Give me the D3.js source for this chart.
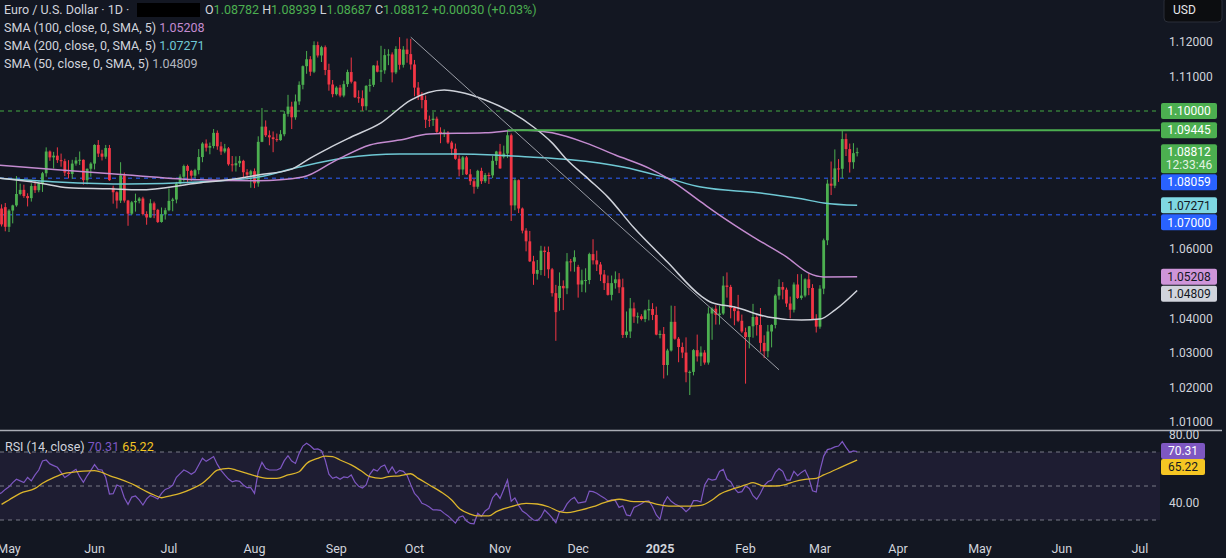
<!DOCTYPE html>
<meta charset="utf-8">
<script src="https://d3js.org/d3.v7.min.js"></script>
<style>
  body { margin: 0; background: #131722; }
  svg text { font-family: Roboto, "Noto Sans", sans-serif; }
</style>
<div id="chart"></div>
<script>
// ---- data ----
// daily candles: date, open, high, low, close
const candles = [
["2024-04-26",1.0733,1.0740,1.0690,1.0693],["2024-04-29",1.0718,1.0730,1.0666,1.0672],["2024-04-30",1.0722,1.0734,1.0652,1.0665],
["2024-05-01",1.0665,1.0716,1.0650,1.0712],["2024-05-02",1.0712,1.0729,1.0675,1.0727],["2024-05-03",1.0727,1.0812,1.0723,1.0760],
["2024-05-06",1.0760,1.0790,1.0756,1.0772],["2024-05-07",1.0772,1.0787,1.0749,1.0754],["2024-05-08",1.0754,1.0762,1.0724,1.0748],
["2024-05-09",1.0748,1.0791,1.0738,1.0783],["2024-05-10",1.0783,1.0800,1.0763,1.0771],["2024-05-13",1.0771,1.0796,1.0765,1.0790],
["2024-05-14",1.0790,1.0824,1.0766,1.0820],["2024-05-15",1.0820,1.0895,1.0810,1.0883],["2024-05-16",1.0883,1.0886,1.0856,1.0866],
["2024-05-17",1.0866,1.0882,1.0834,1.0871],["2024-05-20",1.0871,1.0895,1.0850,1.0858],["2024-05-21",1.0858,1.0877,1.0839,1.0855],
["2024-05-22",1.0855,1.0862,1.0812,1.0822],["2024-05-23",1.0822,1.0858,1.0805,1.0818],["2024-05-24",1.0818,1.0859,1.0804,1.0848],
["2024-05-27",1.0848,1.0867,1.0842,1.0857],["2024-05-28",1.0857,1.0883,1.0844,1.0859],["2024-05-29",1.0859,1.0860,1.0787,1.0800],
["2024-05-30",1.0800,1.0834,1.0788,1.0833],["2024-05-31",1.0833,1.0852,1.0810,1.0848],
["2024-06-03",1.0848,1.0904,1.0831,1.0902],["2024-06-04",1.0902,1.0916,1.0867,1.0877],["2024-06-05",1.0877,1.0888,1.0857,1.0868],
["2024-06-06",1.0868,1.0902,1.0862,1.0893],["2024-06-07",1.0893,1.0902,1.0798,1.0800],["2024-06-10",1.0778,1.0784,1.0732,1.0765],
["2024-06-11",1.0765,1.0768,1.0718,1.0741],["2024-06-12",1.0741,1.0852,1.0734,1.0814],["2024-06-13",1.0814,1.0822,1.0735,1.0741],
["2024-06-14",1.0741,1.0743,1.0668,1.0703],["2024-06-17",1.0703,1.0740,1.0699,1.0736],["2024-06-18",1.0736,1.0761,1.0709,1.0740],
["2024-06-19",1.0740,1.0751,1.0733,1.0747],["2024-06-20",1.0747,1.0752,1.0698,1.0702],["2024-06-21",1.0702,1.0710,1.0671,1.0692],
["2024-06-24",1.0692,1.0745,1.0691,1.0733],["2024-06-25",1.0733,1.0738,1.0690,1.0714],["2024-06-26",1.0714,1.0717,1.0676,1.0679],
["2024-06-27",1.0679,1.0721,1.0677,1.0701],["2024-06-28",1.0701,1.0720,1.0686,1.0713],
["2024-07-01",1.0713,1.0776,1.0710,1.0740],["2024-07-02",1.0740,1.0749,1.0710,1.0744],["2024-07-03",1.0744,1.0795,1.0733,1.0790],
["2024-07-04",1.0790,1.0817,1.0787,1.0810],["2024-07-05",1.0810,1.0845,1.0796,1.0841],["2024-07-08",1.0841,1.0845,1.0791,1.0827],
["2024-07-09",1.0827,1.0830,1.0798,1.0813],["2024-07-10",1.0813,1.0833,1.0806,1.0829],["2024-07-11",1.0829,1.0890,1.0817,1.0867],
["2024-07-12",1.0867,1.0910,1.0852,1.0906],["2024-07-15",1.0906,1.0918,1.0883,1.0894],["2024-07-16",1.0894,1.0909,1.0875,1.0899],
["2024-07-17",1.0899,1.0948,1.0892,1.0937],["2024-07-18",1.0937,1.0944,1.0888,1.0898],["2024-07-19",1.0898,1.0911,1.0873,1.0883],
["2024-07-22",1.0883,1.0905,1.0878,1.0892],["2024-07-23",1.0892,1.0896,1.0842,1.0846],["2024-07-24",1.0846,1.0870,1.0825,1.0843],
["2024-07-25",1.0843,1.0869,1.0825,1.0849],["2024-07-26",1.0849,1.0870,1.0838,1.0856],["2024-07-29",1.0856,1.0859,1.0809,1.0823],
["2024-07-30",1.0823,1.0832,1.0802,1.0816],["2024-07-31",1.0816,1.0830,1.0778,1.0826],
["2024-08-01",1.0826,1.0834,1.0777,1.0791],["2024-08-02",1.0791,1.0927,1.0781,1.0911],["2024-08-05",1.0911,1.1009,1.0910,1.0955],
["2024-08-06",1.0955,1.0973,1.0925,1.0930],["2024-08-07",1.0930,1.0944,1.0901,1.0924],["2024-08-08",1.0924,1.0941,1.0881,1.0919],
["2024-08-09",1.0919,1.0935,1.0911,1.0916],["2024-08-12",1.0916,1.0945,1.0914,1.0933],["2024-08-13",1.0933,1.1000,1.0927,1.0992],
["2024-08-14",1.0992,1.1047,1.0984,1.1013],["2024-08-15",1.1013,1.1027,1.0948,1.0982],["2024-08-16",1.0982,1.1048,1.0975,1.1028],
["2024-08-19",1.1028,1.1086,1.1018,1.1076],["2024-08-20",1.1076,1.1132,1.1063,1.1130],["2024-08-21",1.1130,1.1174,1.1108,1.1150],
["2024-08-22",1.1150,1.1159,1.1102,1.1114],["2024-08-23",1.1114,1.1202,1.1110,1.1191],["2024-08-26",1.1191,1.1201,1.1155,1.1161],
["2024-08-27",1.1161,1.1189,1.1142,1.1185],["2024-08-28",1.1185,1.1190,1.1104,1.1119],["2024-08-29",1.1119,1.1137,1.1059,1.1077],
["2024-08-30",1.1077,1.1090,1.1040,1.1049],
["2024-09-02",1.1049,1.1072,1.1045,1.1068],["2024-09-03",1.1068,1.1076,1.1040,1.1045],["2024-09-04",1.1045,1.1088,1.1040,1.1078],
["2024-09-05",1.1078,1.1120,1.1070,1.1113],["2024-09-06",1.1113,1.1155,1.1080,1.1085],["2024-09-09",1.1085,1.1087,1.1038,1.1040],
["2024-09-10",1.1040,1.1060,1.1024,1.1037],["2024-09-11",1.1037,1.1060,1.1001,1.1014],["2024-09-12",1.1014,1.1075,1.1002,1.1073],
["2024-09-13",1.1073,1.1093,1.1056,1.1076],["2024-09-16",1.1076,1.1133,1.1070,1.1132],["2024-09-17",1.1132,1.1146,1.1112,1.1114],
["2024-09-18",1.1114,1.1189,1.1084,1.1118],["2024-09-19",1.1118,1.1180,1.1108,1.1162],["2024-09-20",1.1162,1.1179,1.1133,1.1164],
["2024-09-23",1.1164,1.1170,1.1083,1.1112],["2024-09-24",1.1112,1.1188,1.1107,1.1180],["2024-09-25",1.1180,1.1214,1.1120,1.1134],
["2024-09-26",1.1134,1.1188,1.1126,1.1178],["2024-09-27",1.1178,1.1210,1.1140,1.1165],["2024-09-30",1.1165,1.1209,1.1120,1.1135],
["2024-10-01",1.1135,1.1148,1.1043,1.1068],["2024-10-02",1.1068,1.1084,1.1032,1.1045],["2024-10-03",1.1045,1.1055,1.1008,1.1032],
["2024-10-04",1.1032,1.1045,1.0951,1.0975],["2024-10-07",1.0975,1.0987,1.0954,1.0974],["2024-10-08",1.0974,1.0997,1.0957,1.0978],
["2024-10-09",1.0978,1.0984,1.0937,1.0940],["2024-10-10",1.0940,1.0953,1.0907,1.0936],["2024-10-11",1.0936,1.0947,1.0925,1.0938],
["2024-10-14",1.0938,1.0942,1.0905,1.0909],["2024-10-15",1.0909,1.0914,1.0873,1.0891],["2024-10-16",1.0891,1.0906,1.0859,1.0862],
["2024-10-17",1.0862,1.0872,1.0811,1.0831],["2024-10-18",1.0831,1.0870,1.0815,1.0866],["2024-10-21",1.0866,1.0870,1.0815,1.0817],
["2024-10-22",1.0817,1.0832,1.0786,1.0797],["2024-10-23",1.0797,1.0804,1.0761,1.0781],["2024-10-24",1.0781,1.0830,1.0775,1.0827],
["2024-10-25",1.0827,1.0836,1.0789,1.0797],["2024-10-28",1.0797,1.0821,1.0792,1.0815],["2024-10-29",1.0815,1.0822,1.0789,1.0814],
["2024-10-30",1.0814,1.0870,1.0806,1.0856],["2024-10-31",1.0856,1.0885,1.0844,1.0883],
["2024-11-01",1.0883,1.0905,1.0833,1.0834],["2024-11-04",1.0868,1.0900,1.0863,1.0877],["2024-11-05",1.0877,1.09445,1.0864,1.0930],
["2024-11-06",1.0930,1.0935,1.0682,1.0727],["2024-11-07",1.0727,1.0805,1.0713,1.0800],["2024-11-08",1.0800,1.0802,1.0705,1.0718],
["2024-11-11",1.0718,1.0721,1.0646,1.0654],["2024-11-12",1.0654,1.0661,1.0594,1.0623],["2024-11-13",1.0623,1.0653,1.0563,1.0565],
["2024-11-14",1.0565,1.0581,1.0497,1.0529],["2024-11-15",1.0529,1.0569,1.0512,1.0540],["2024-11-18",1.0540,1.0610,1.0525,1.0596],
["2024-11-19",1.0596,1.0608,1.0523,1.0592],["2024-11-20",1.0592,1.0608,1.0516,1.0542],["2024-11-21",1.0542,1.0546,1.0463,1.0473],
["2024-11-22",1.0473,1.0497,1.0335,1.0418],["2024-11-25",1.0459,1.0533,1.0422,1.0494],["2024-11-26",1.0494,1.0510,1.0424,1.0487],
["2024-11-27",1.0487,1.0589,1.0470,1.0565],["2024-11-28",1.0565,1.0572,1.0536,1.0564],["2024-11-29",1.0564,1.0597,1.0535,1.0577],
["2024-12-02",1.0549,1.0555,1.0460,1.0498],["2024-12-03",1.0498,1.0541,1.0476,1.0510],["2024-12-04",1.0510,1.0545,1.0475,1.0511],
["2024-12-05",1.0511,1.0590,1.0499,1.0586],["2024-12-06",1.0586,1.0629,1.0556,1.0568],["2024-12-09",1.0568,1.0596,1.0537,1.0556],
["2024-12-10",1.0556,1.0563,1.0508,1.0527],["2024-12-11",1.0527,1.0540,1.0482,1.0502],["2024-12-12",1.0502,1.0524,1.0466,1.0468],
["2024-12-13",1.0468,1.0524,1.0452,1.0502],["2024-12-16",1.0502,1.0536,1.0486,1.0513],["2024-12-17",1.0513,1.0531,1.0473,1.0490],
["2024-12-18",1.0490,1.0515,1.0343,1.0352],["2024-12-19",1.0352,1.0420,1.0344,1.0362],["2024-12-20",1.0362,1.0459,1.0343,1.0429],
["2024-12-23",1.0429,1.0446,1.0387,1.0405],["2024-12-24",1.0405,1.0417,1.0385,1.0406],["2024-12-25",1.0406,1.0412,1.0394,1.0398],
["2024-12-26",1.0398,1.0426,1.0389,1.0423],["2024-12-27",1.0423,1.0454,1.0394,1.0427],["2024-12-30",1.0427,1.0444,1.0395,1.0410],
["2024-12-31",1.0410,1.0434,1.0351,1.0353],
["2025-01-01",1.0353,1.0365,1.0342,1.0355],["2025-01-02",1.0355,1.0375,1.0226,1.0265],["2025-01-03",1.0265,1.0312,1.0235,1.0307],
["2025-01-06",1.0307,1.0437,1.0304,1.0390],["2025-01-07",1.0390,1.0436,1.0338,1.0341],["2025-01-08",1.0341,1.0346,1.0273,1.0317],
["2025-01-09",1.0317,1.0330,1.0285,1.0301],["2025-01-10",1.0301,1.0345,1.0215,1.0244],["2025-01-13",1.0244,1.0249,1.0178,1.0245],
["2025-01-14",1.0245,1.0311,1.0235,1.0308],["2025-01-15",1.0308,1.0353,1.0275,1.0290],["2025-01-16",1.0290,1.0319,1.0262,1.0301],
["2025-01-17",1.0301,1.0308,1.0266,1.0272],["2025-01-20",1.0272,1.0432,1.0266,1.0414],["2025-01-21",1.0414,1.0432,1.0338,1.0428],
["2025-01-22",1.0428,1.0438,1.0382,1.0410],["2025-01-23",1.0410,1.0437,1.0382,1.0414],["2025-01-24",1.0414,1.0522,1.0410,1.0495],
["2025-01-27",1.0495,1.0533,1.0460,1.0491],["2025-01-28",1.0491,1.0497,1.0400,1.0430],["2025-01-29",1.0430,1.0435,1.0380,1.0421],
["2025-01-30",1.0421,1.0468,1.0389,1.0393],["2025-01-31",1.0393,1.0411,1.0358,1.0362],
["2025-02-03",1.0360,1.0373,1.0211,1.0346],["2025-02-04",1.0346,1.0378,1.0313,1.0377],["2025-02-05",1.0377,1.0442,1.0344,1.0404],
["2025-02-06",1.0404,1.0409,1.0350,1.0381],["2025-02-07",1.0381,1.0430,1.0303,1.0329],["2025-02-10",1.0329,1.0351,1.0285,1.0305],
["2025-02-11",1.0305,1.0381,1.0287,1.0362],["2025-02-12",1.0362,1.0383,1.0316,1.0381],["2025-02-13",1.0381,1.0470,1.0371,1.0466],
["2025-02-14",1.0466,1.0513,1.0454,1.0491],["2025-02-17",1.0491,1.0505,1.0455,1.0483],["2025-02-18",1.0483,1.0489,1.0433,1.0443],
["2025-02-19",1.0443,1.0463,1.0400,1.0425],["2025-02-20",1.0425,1.0504,1.0417,1.0498],["2025-02-21",1.0498,1.0528,1.0456,1.0459],
["2025-02-24",1.0459,1.0528,1.0454,1.0466],["2025-02-25",1.0466,1.0516,1.0461,1.0513],["2025-02-26",1.0513,1.0529,1.0467,1.0488],
["2025-02-27",1.0488,1.0499,1.0395,1.0398],["2025-02-28",1.0398,1.0412,1.0359,1.0376],
["2025-03-03",1.0376,1.0496,1.0370,1.0486],["2025-03-04",1.0486,1.0631,1.0470,1.0626],["2025-03-05",1.0626,1.0802,1.0612,1.0790],
["2025-03-06",1.0790,1.0854,1.0757,1.0784],["2025-03-07",1.0784,1.0889,1.0777,1.0834],["2025-03-10",1.0834,1.0861,1.0795,1.0833],
["2025-03-11",1.0833,1.0945,1.0806,1.0919],["2025-03-12",1.0919,1.0935,1.0870,1.0890],["2025-03-13",1.0890,1.0906,1.0822,1.0852],
["2025-03-14",1.0852,1.0907,1.0833,1.08782],["2025-03-17",1.08782,1.08939,1.08687,1.08812]
];

// RSI(14), one value per candle above
const rsiValues = [45,46,48,
49.5,52,54,53,52,55,53,56.5,59.4,64.7,65.3,63,62,61,58,55,56.5,58.4,59.8,55.5,52.2,56,59.2,
62.6,59.6,59.4,55,45.3,45.5,50.6,49.6,43.1,39.2,43.5,44.1,41.8,38.8,42.4,44.5,43.5,42.4,45.7,48,
48.8,50.4,55.1,57.3,59.4,58.4,56.9,58.4,62.4,66.3,64.5,65.9,67.3,62.7,59.2,56.5,54.1,52.5,53.1,52.7,50.6,49,49,
45.7,58.4,63.9,60.4,59.4,59.4,59.4,60.4,64.9,67.8,64.7,63.3,69.2,73.5,75.1,73.7,71.6,71.8,70.8,65.3,56.9,54.5,
55.3,53.9,55.3,54.9,56.5,52.2,49.8,48.8,50.6,56.9,59.8,58.8,61.4,62.4,57.8,61.2,57.4,59.2,58.6,56.3,50.8,
45.7,43.3,39.8,39,37.6,35.9,35.9,35.7,33.9,32.4,30.4,28.2,31.6,32.4,29.4,28,27.8,34,32.2,35.3,36.9,43.1,45.7,
42.7,48,53.5,41,43,38.6,35.3,33.9,31.8,30,29.6,31.8,35.9,33.7,31.2,28.4,34.9,35.5,39.5,42,43.3,
40,40.4,40.8,47,46.7,45.7,44.3,43,41.2,41.8,41.4,37.4,38.4,33,32.5,37.4,38.4,39.6,41,41.2,37.8,33,
30.4,39.8,43.7,41,39.4,38.4,37.2,34.9,36.9,41.4,41.4,40.6,50.6,54.3,53.5,53.9,58.6,59.8,54.1,52.5,48.6,46.1,46.7,
50,48.6,44.3,42.2,45.7,50.2,52.5,53.5,58,60.2,58.6,53.5,53.5,58.6,56.1,58,59.4,54.7,47.2,46.5,
59,67.6,71.4,72,73,73.5,76.1,72.7,69.8,70.6,70.31];

// RSI-based moving average, sampled along the yellow line
const rsiMa = [["2024-04-29",39.2],["2024-05-01",41.8],["2024-05-06",45.7],["2024-05-10",48.6],["2024-05-14",51.6],
["2024-05-17",54.9],["2024-05-22",57.4],["2024-05-24",58],["2024-05-29",58.8],["2024-06-03",59],["2024-06-05",58],
["2024-06-07",56.1],["2024-06-12",53.9],["2024-06-14",52.2],["2024-06-18",50.2],["2024-06-19",49],["2024-06-21",46.7],
["2024-06-25",44.7],["2024-06-27",43.1],["2024-07-01",44.1],["2024-07-04",45.7],["2024-07-09",48.2],["2024-07-12",51.6],
["2024-07-16",55.5],["2024-07-18",59.4],["2024-07-23",60.4],["2024-07-25",59.4],["2024-07-30",57.4],["2024-08-02",55.5],
["2024-08-07",54.5],["2024-08-09",54.5],["2024-08-14",56.5],["2024-08-19",58.4],["2024-08-21",63.3],["2024-08-26",66.3],
["2024-08-28",67.6],["2024-08-30",67.3],["2024-09-03",65.3],["2024-09-06",62.4],["2024-09-11",58.4],["2024-09-13",55.5],
["2024-09-18",54.5],["2024-09-20",55.5],["2024-09-25",56],["2024-09-30",57.2],["2024-10-02",54.5],["2024-10-07",50.6],
["2024-10-10",46.7],["2024-10-15",41.8],["2024-10-17",36.9],["2024-10-22",33.5],["2024-10-24",32.4],["2024-10-29",32.4],
["2024-10-31",34.9],["2024-11-06",37.8],["2024-11-12",39.8],["2024-11-15",39.4],["2024-11-20",37.8],["2024-11-25",34.9],
["2024-11-27",34.3],["2024-12-02",35.5],["2024-12-06",37.8],["2024-12-11",40.2],["2024-12-17",42.2],["2024-12-23",40.8],
["2024-12-26",40.8],["2024-12-31",39.4],["2025-01-06",38.2],["2025-01-08",38.2],["2025-01-13",38.2],["2025-01-16",38.6],
["2025-01-21",41.8],["2025-01-23",45.1],["2025-01-29",48.6],["2025-02-03",50.6],["2025-02-05",52],["2025-02-10",50],
["2025-02-13",50],["2025-02-18",51],["2025-02-20",52.5],["2025-02-25",53.9],["2025-02-28",54.5],["2025-03-04",56.5],
["2025-03-06",58.4],["2025-03-11",61.4],["2025-03-17",65.22]];

// moving averages on price, sampled along each line
const sma50 = [["2024-04-26",1.0806],["2024-05-13",1.0792],["2024-05-23",1.0778],["2024-06-07",1.0775],["2024-06-19",1.0772],
["2024-07-11",1.0792],["2024-07-23",1.0801],["2024-08-02",1.0815],["2024-08-15",1.0832],["2024-08-22",1.0864],["2024-08-29",1.0893],
["2024-09-06",1.0925],["2024-09-18",1.0966],["2024-09-30",1.1032],["2024-10-11",1.1061],["2024-10-17",1.1055],["2024-10-28",1.1032],
["2024-11-06",1.0997],["2024-11-14",1.0954],["2024-11-21",1.0908],["2024-11-27",1.0859],["2024-12-05",1.0801],["2024-12-12",1.0751],
["2024-12-23",1.0662],["2025-01-03",1.0563],["2025-01-16",1.0465],["2025-01-21",1.0445],["2025-01-29",1.0433],["2025-02-11",1.0404],
["2025-02-24",1.0395],["2025-03-03",1.0398],["2025-03-07",1.0424],["2025-03-17",1.04809]];
const sma100 = [["2024-04-26",1.0844],["2024-05-20",1.0830],["2024-06-14",1.0815],["2024-07-11",1.0801],["2024-08-02",1.0798],
["2024-08-20",1.0809],["2024-09-02",1.0858],["2024-09-13",1.0902],["2024-09-25",1.0916],["2024-10-07",1.0934],["2024-10-28",1.0937],
["2024-11-11",1.0945],["2024-11-21",1.0937],["2024-12-04",1.0908],["2024-12-16",1.0873],["2024-12-27",1.0835],["2025-01-03",1.0806],
["2025-01-16",1.0737],["2025-01-23",1.0699],["2025-02-05",1.0636],["2025-02-18",1.0578],["2025-02-26",1.0531],["2025-03-04",1.0520],
["2025-03-17",1.05208]];
const sma200 = [["2024-04-26",1.0806],["2024-05-20",1.0795],["2024-06-14",1.0789],["2024-07-11",1.0795],["2024-08-02",1.0809],
["2024-08-19",1.0838],["2024-09-04",1.0864],["2024-09-25",1.0876],["2024-10-17",1.0876],["2024-11-13",1.0867],["2024-11-28",1.0859],
["2024-12-18",1.0838],["2025-01-03",1.0806],["2025-01-16",1.0780],["2025-02-07",1.0763],["2025-02-24",1.0746],["2025-03-04",1.0734],
["2025-03-17",1.07271]];

const trendLine = [["2024-09-30",1.1214],["2025-02-14",1.0251]];
const dashedLevels = [[1.10, "#357a39"], [1.08059, "#2449b8"], [1.07, "#2449b8"]];
const rayLevel = ["2024-11-05", 1.09445];

const priceTicks = [1.01,1.02,1.03,1.04,1.05,1.06,1.07,1.08,1.09,1.10,1.11,1.12];
const rsiTicks = [40,60,80];
const rsiGuides = [70,50,30];
const monthLabels = ["May","Jun","Jul","Aug","Sep","Oct","Nov","Dec","2025","Feb","Mar","Apr","May","Jun","Jul"];
const monthStarts = ["2024-05","2024-06","2024-07","2024-08","2024-09","2024-10","2024-11","2024-12",
                     "2025-01","2025-02","2025-03","2025-04","2025-05","2025-06","2025-07"];

// price-axis badges: price, lines of text, fill, text colour
const badges = [
  [1.10000, ["1.10000"], "#4caf50", "#ffffff"],
  [1.09445, ["1.09445"], "#4caf50", "#ffffff"],
  [1.08812, ["1.08812","12:33:46"], "#4caf50", "#ffffff"],
  [1.08059, ["1.08059"], "#2962ff", "#ffffff"],
  [1.07271, ["1.07271"], "#7fd8e2", "#131722"],
  [1.07000, ["1.07000"], "#2962ff", "#ffffff"],
  [1.05208, ["1.05208"], "#cf95d9", "#131722"],
  [1.04809, ["1.04809"], "#d1d4dc", "#131722"]
];
const rsiBadges = [[70.31, "70.31", "#7e57c2", "#ffffff"], [65.22, "65.22", "#f5c623", "#131722"]];

// ---- layout ----
const W = 1226, H = 558;
const plotRight = 1160;
const up = "#4caf50", down = "#f23645";

const parse = d3.utcParse("%Y-%m-%d");
const fmt = d3.utcFormat("%Y-%m-%d");
const days = d3.utcDay.range(parse("2024-04-01"), parse("2025-08-01"))
  .filter(d => d.getUTCDay() !== 0 && d.getUTCDay() !== 6);
const dayIndex = new Map(days.map((d, i) => [fmt(d), i]));
const i0 = dayIndex.get("2024-05-01");
const x = d3.scaleLinear().domain([i0, i0 + 1]).range([9, 9 + 3.72]);
const xd = s => x(dayIndex.get(s));

const y = d3.scaleLinear().domain([1.01, 1.12]).range([422, 42]);
const yR = d3.scaleLinear().domain([30, 70]).range([520, 452]);

const svg = d3.select("#chart").append("svg")
  .attr("width", W).attr("height", H);
svg.append("rect").attr("width", W).attr("height", H).attr("fill", "#131722");

const defs = svg.append("defs");
defs.append("clipPath").attr("id", "clipP").append("rect")
  .attr("x", 0).attr("y", 0).attr("width", plotRight).attr("height", 430);
defs.append("clipPath").attr("id", "clipR").append("rect")
  .attr("x", 0).attr("y", 431).attr("width", plotRight).attr("height", 99);

const price = svg.append("g").attr("clip-path", "url(#clipP)");

// horizontal levels
price.selectAll(".lvl").data(dashedLevels).join("line")
  .attr("x1", 0).attr("x2", plotRight)
  .attr("y1", d => y(d[0])).attr("y2", d => y(d[0]))
  .attr("stroke", d => d[1]).attr("stroke-width", 1.5).attr("stroke-dasharray", "4,4");

// candles
const bars = candles.map(d => ({date: d[0], o: d[1], h: d[2], l: d[3], c: d[4]}));
const cg = price.append("g");
cg.selectAll("line").data(bars).join("line")
  .attr("x1", d => xd(d.date)).attr("x2", d => xd(d.date))
  .attr("y1", d => y(d.h)).attr("y2", d => y(d.l))
  .attr("stroke", d => d.c >= d.o ? up : down).attr("stroke-width", 1);
cg.selectAll("rect").data(bars).join("rect")
  .attr("x", d => xd(d.date) - 1.4).attr("width", 2.8)
  .attr("y", d => y(Math.max(d.o, d.c)))
  .attr("height", d => Math.max(1, Math.abs(y(d.o) - y(d.c))))
  .attr("fill", d => d.c >= d.o ? up : down);

// moving averages
const maLine = d3.line().x(d => xd(d[0])).y(d => y(d[1])).curve(d3.curveMonotoneX);
[[sma200, "#6fc8d4"], [sma100, "#c48bd0"], [sma50, "#cfd2da"]].forEach(([s, col]) => {
  price.append("path").attr("d", maLine(s)).attr("fill", "none")
    .attr("stroke", col).attr("stroke-width", 1.5);
});

// trend line and ray
price.append("line")
  .attr("x1", xd(trendLine[0][0])).attr("y1", y(trendLine[0][1]))
  .attr("x2", xd(trendLine[1][0])).attr("y2", y(trendLine[1][1]))
  .attr("stroke", "#9a9da6").attr("stroke-width", 1);
price.append("line")
  .attr("x1", xd(rayLevel[0])).attr("x2", plotRight)
  .attr("y1", y(rayLevel[1])).attr("y2", y(rayLevel[1]))
  .attr("stroke", "#4caf50").attr("stroke-width", 2);

// badges with simple overlap push
let prevBottom = -Infinity;
const bl = badges.map(b => {
  const h = 16 + (b[1].length - 1) * 13;
  let top = y(b[0]) - 8;
  if (top < prevBottom + 1) top = prevBottom + 1;
  prevBottom = top + h;
  return {b, top, h};
});

// price axis: skip tick labels that sit under a badge
const axisText = "#d1d4dc";
const hidden = t => bl.some(({top, h}) => y(t) + 6 > top && y(t) - 6 < top + h);
svg.append("g").selectAll("text").data(priceTicks.filter(t => !hidden(t))).join("text")
  .attr("x", 1169).attr("y", d => y(d)).attr("dy", "0.35em")
  .attr("fill", axisText).attr("font-size", 12)
  .text(d => d.toFixed(5));

const bg = svg.append("g");
bl.forEach(({b, top, h}) => {
  bg.append("rect").attr("x", 1161).attr("y", top).attr("width", 56).attr("height", h)
    .attr("rx", 2).attr("fill", b[2]);
  b[1].forEach((t, k) => {
    bg.append("text").attr("x", 1189).attr("y", top + 8 + k * 13).attr("dy", "0.35em")
      .attr("text-anchor", "middle").attr("font-size", 12)
      .attr("fill", b[3]).attr("fill-opacity", k ? 0.85 : 1).text(t);
  });
});

// USD box
svg.append("rect").attr("x", 1164).attr("y", -3).attr("width", 58).attr("height", 25).attr("rx", 4)
  .attr("fill", "#0c0d10").attr("stroke", "#2a2e39");
svg.append("text").attr("x", 1173).attr("y", 10).attr("dy", "0.35em")
  .attr("fill", "#e6e7ea").attr("font-size", 12).text("USD");

// ---- RSI pane ----
svg.append("line").attr("x1", 0).attr("x2", 1222).attr("y1", 430.5).attr("y2", 430.5)
  .attr("stroke", "#a9acb4").attr("stroke-width", 1.5);
const rsiG = svg.append("g").attr("clip-path", "url(#clipR)");
rsiG.append("rect").attr("x", 0).attr("width", plotRight)
  .attr("y", yR(70)).attr("height", yR(30) - yR(70))
  .attr("fill", "#7e57c2").attr("fill-opacity", 0.1);
rsiG.selectAll(".g").data(rsiGuides).join("line")
  .attr("x1", 0).attr("x2", plotRight).attr("y1", d => yR(d)).attr("y2", d => yR(d))
  .attr("stroke", "#787b86").attr("stroke-width", 1).attr("stroke-dasharray", "4,4");
const rsiLine = d3.line().x((d, i) => xd(candles[i][0])).y(d => yR(d));
rsiG.append("path").attr("d", rsiLine(rsiValues)).attr("fill", "none")
  .attr("stroke", "#7e57c2").attr("stroke-width", 1.2);
rsiG.append("path").attr("d", d3.line().x(d => xd(d[0])).y(d => yR(d[1])).curve(d3.curveMonotoneX)(rsiMa))
  .attr("fill", "none").attr("stroke", "#dcb52c").attr("stroke-width", 1.3);

svg.append("g").selectAll("text").data(rsiTicks.filter(t => t !== 60)).join("text")
  .attr("x", 1169).attr("y", d => yR(d)).attr("dy", "0.35em")
  .attr("fill", axisText).attr("font-size", 12).text(d => d.toFixed(2));
rsiBadges.forEach((b, k) => {
  const top = 443 + k * 16;
  svg.append("rect").attr("x", 1161).attr("y", top).attr("width", 44).attr("height", 16)
    .attr("rx", 2).attr("fill", b[2]);
  svg.append("text").attr("x", 1183).attr("y", top + 8).attr("dy", "0.35em").attr("text-anchor", "middle")
    .attr("font-size", 12).attr("fill", b[3]).text(b[1]);
});

// RSI legend
const rl = svg.append("text").attr("x", 5).attr("y", 447).attr("dy", "0.35em").attr("font-size", 12.5);
rl.append("tspan").attr("fill", "#d1d4dc").text("RSI (14, close) ");
rl.append("tspan").attr("fill", "#7e57c2").text(" 70.31 ");
rl.append("tspan").attr("fill", "#f5c623").text(" 65.22");

// ---- time axis ----
const firstWeekday = m => days.find(d => fmt(d).startsWith(m));
svg.append("g").selectAll("text").data(monthStarts).join("text")
  .attr("x", m => x(dayIndex.get(fmt(firstWeekday(m)))))
  .attr("y", 549).attr("dy", "0.35em").attr("text-anchor", "middle")
  .attr("fill", axisText).attr("font-size", 12.5)
  .attr("font-weight", (m, i) => monthLabels[i] === "2025" ? "bold" : null)
  .text((m, i) => monthLabels[i]);

// ---- legend ----
const leg = svg.append("g").attr("font-size", 12.5);
const l1 = leg.append("text").attr("x", 4).attr("y", 10).attr("dy", "0.35em");
l1.append("tspan").attr("fill", "#d1d4dc").text("Euro / U.S. Dollar · 1D · ");
leg.append("rect").attr("x", 137).attr("y", 3).attr("width", 63).attr("height", 14).attr("fill", "#000");
const ohlc = [["O", "1.08782"], ["H", "1.08939"], ["L", "1.08687"], ["C", "1.08812"]];
const l2 = leg.append("text").attr("x", 205).attr("y", 10).attr("dy", "0.35em");
ohlc.forEach(([k, v]) => {
  l2.append("tspan").attr("fill", "#d1d4dc").text(k);
  l2.append("tspan").attr("fill", "#4caf50").text(v + "  ");
});
l2.append("tspan").attr("fill", "#4caf50").text("+0.00030 (+0.03%)");

const maLegend = [["SMA (100, close, 0, SMA, 5)", "1.05208", "#c48bd0"],
                  ["SMA (200, close, 0, SMA, 5)", "1.07271", "#6fc8d4"],
                  ["SMA (50, close, 0, SMA, 5)", "1.04809", "#b2b5be"]];
maLegend.forEach((m, k) => {
  const t = leg.append("text").attr("x", 4).attr("y", 28 + k * 18).attr("dy", "0.35em");
  t.append("tspan").attr("fill", "#d1d4dc").text(m[0] + "  ");
  t.append("tspan").attr("fill", m[2]).text(m[1]);
});
</script>
